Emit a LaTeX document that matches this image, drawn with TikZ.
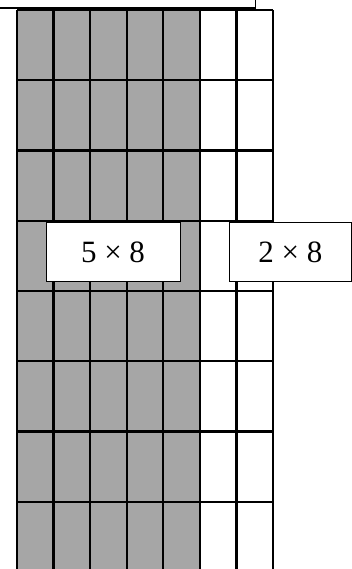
\documentclass[tikz,border=0pt]{standalone}
\usepackage{fontspec}
\setmainfont{Liberation Serif}
\usetikzlibrary{positioning}

\begin{document}
\begin{tikzpicture}[
    x=1pt, y=-1pt,
    % --- styles ---
    shaded/.style={fill=black!35},
    gridline/.style={draw=black, line width=2.2pt},
    topedge/.style={draw=black, line width=2.6pt},
    label/.style={
      rectangle, draw=black, line width=0.9pt, fill=white,
      minimum height=58.5pt, inner sep=0pt,
      font=\fontsize{31}{34}\selectfont},
  ]
  \useasboundingbox (0,0) rectangle (352,569);

  % ============== CELLS ==============
  \foreach \r in {0,...,7} {
    \foreach \c in {0,...,6} {
      \ifnum\c<5
        \path[shaded] ({17+36.57*\c},{10+70.25*\r}) rectangle ++(36.57,70.25);
      \fi
    }
  }
  \foreach \c in {0,...,7}
    \draw[gridline] ({17+36.57*\c},10) -- ({17+36.57*\c},572);
  \foreach \r in {0,...,8}
    \draw[gridline] (17,{10+70.25*\r}) -- (273,{10+70.25*\r});

  % ============== BOX ABOVE (cut off) ==============
  \draw[topedge] (0,8) -- (255.5,8);
  \draw[draw=black, line width=1.6pt] (255.5,9) -- (255.5,0);

  % ============== LABELS ==============
  \node[label, minimum width=134pt] (shadedlabel) at (113,252) {5 × 8};
  \node[label, minimum width=122pt] (whitelabel) at (290.4,252) {2 × 8};

\end{tikzpicture}
\end{document}
